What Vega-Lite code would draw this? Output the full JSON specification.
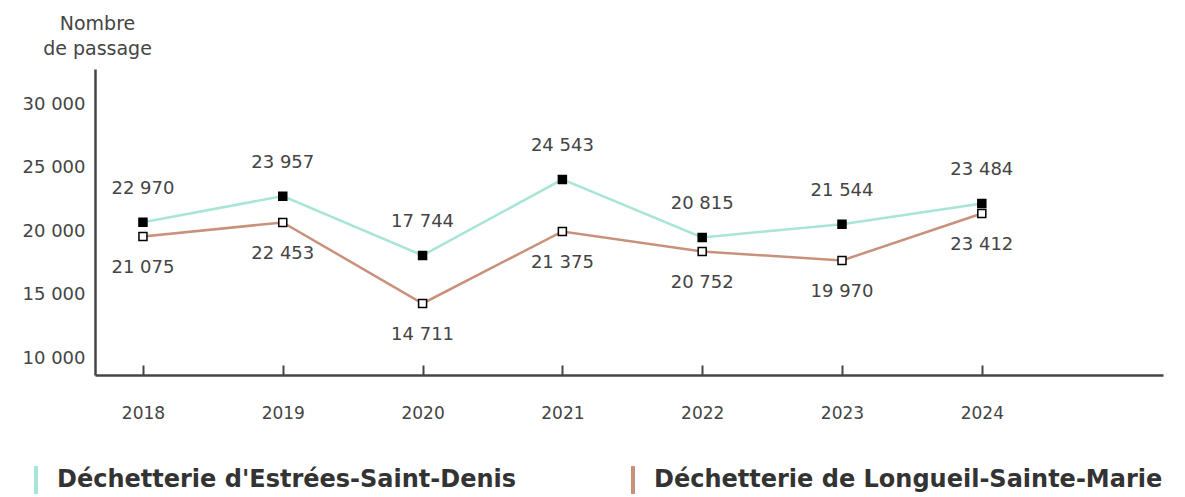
{
  "$schema": "https://vega.github.io/schema/vega-lite/v6.json",
  "width": 1068,
  "height": 306,
  "autosize": "none",
  "padding": {"left": 95, "top": 69, "right": 22, "bottom": 122},
  "data": {
    "values": [
      {"annee": 2018, "site": "Déchetterie d'Estrées-Saint-Denis", "trace": 20708, "passages": 22970},
      {"annee": 2019, "site": "Déchetterie d'Estrées-Saint-Denis", "trace": 22754, "passages": 23957},
      {"annee": 2020, "site": "Déchetterie d'Estrées-Saint-Denis", "trace": 18088, "passages": 17744},
      {"annee": 2021, "site": "Déchetterie d'Estrées-Saint-Denis", "trace": 24068, "passages": 24543},
      {"annee": 2022, "site": "Déchetterie d'Estrées-Saint-Denis", "trace": 19504, "passages": 20815},
      {"annee": 2023, "site": "Déchetterie d'Estrées-Saint-Denis", "trace": 20551, "passages": 21544},
      {"annee": 2024, "site": "Déchetterie d'Estrées-Saint-Denis", "trace": 22180, "passages": 23484},
      {"annee": 2018, "site": "Déchetterie de Longueil-Sainte-Marie", "trace": 19583, "passages": 21075},
      {"annee": 2019, "site": "Déchetterie de Longueil-Sainte-Marie", "trace": 20685, "passages": 22453},
      {"annee": 2020, "site": "Déchetterie de Longueil-Sainte-Marie", "trace": 14312, "passages": 14711},
      {"annee": 2021, "site": "Déchetterie de Longueil-Sainte-Marie", "trace": 19976, "passages": 21375},
      {"annee": 2022, "site": "Déchetterie de Longueil-Sainte-Marie", "trace": 18402, "passages": 20752},
      {"annee": 2023, "site": "Déchetterie de Longueil-Sainte-Marie", "trace": 17694, "passages": 19970},
      {"annee": 2024, "site": "Déchetterie de Longueil-Sainte-Marie", "trace": 21393, "passages": 23412}
    ]
  },
  "encoding": {
    "x": {
      "field": "annee", "type": "quantitative",
      "scale": {"domain": [2017.657, 2025.296], "nice": false, "zero": false},
      "axis": {
        "values": [2018, 2019, 2020, 2021, 2022, 2023, 2024],
        "format": "d", "title": null, "grid": false,
        "domainColor": "#444", "domainWidth": 2.5,
        "ticks": true, "tickColor": "#444", "tickWidth": 2, "tickSize": -10,
        "labelPadding": 48, "labelFontSize": 17, "labelColor": "#444", "labelBaseline": "middle"
      }
    },
    "y": {
      "field": "trace", "type": "quantitative",
      "scale": {"domain": [8686, 32754], "nice": false, "zero": false},
      "axis": {
        "values": [10000, 15000, 20000, 25000, 30000],
        "format": ",d", "grid": false, "ticks": false,
        "domainColor": "#444", "domainWidth": 2.5,
        "labelPadding": 10, "labelFontSize": 18, "labelColor": "#444",
        "title": ["Nombre", "de passage"], "titleAngle": 0, "titleAlign": "center",
        "titleBaseline": "middle", "titleX": 2, "titleY": -46, "titleLineHeight": 25,
        "titleFontSize": 19, "titleFontWeight": "normal", "titleColor": "#444"
      }
    }
  },
  "layer": [
    {
      "mark": {"type": "line", "strokeWidth": 2.5},
      "encoding": {
        "color": {
          "field": "site", "type": "nominal",
          "scale": {
            "domain": ["Déchetterie d'Estrées-Saint-Denis", "Déchetterie de Longueil-Sainte-Marie"],
            "range": ["#a8e5d6", "#c9917b"]
          },
          "legend": {
            "title": null, "orient": "none", "direction": "horizontal", "columns": 2,
            "legendX": -75, "legendY": 395, "padding": 0,
            "symbolType": "M0,-1L0,1", "symbolSize": 780, "symbolStrokeWidth": 4,
            "labelOffset": 5, "labelFontSize": 24, "labelFontWeight": "bold",
            "labelColor": "#333", "labelLimit": 800, "columnPadding": 100
          }
        }
      }
    },
    {
      "mark": {"type": "point", "shape": "square", "size": 64, "stroke": "black", "strokeWidth": 1.5, "opacity": 1},
      "encoding": {
        "fill": {
          "condition": {"test": "indexof(datum.site, 'Estrées') >= 0", "value": "black"},
          "value": "white"
        }
      }
    },
    {
      "transform": [{"filter": "indexof(datum.site, 'Estrées') >= 0"}],
      "mark": {"type": "text", "dy": -33, "fontSize": 18, "color": "#444", "baseline": "middle"},
      "encoding": {"text": {"field": "passages", "type": "quantitative", "format": ",d"}}
    },
    {
      "transform": [{"filter": "indexof(datum.site, 'Longueil') >= 0"}],
      "mark": {"type": "text", "dy": 32, "fontSize": 18, "color": "#444", "baseline": "middle"},
      "encoding": {"text": {"field": "passages", "type": "quantitative", "format": ",d"}}
    }
  ],
  "config": {
    "font": "DejaVu Sans",
    "view": {"stroke": null},
    "locale": {
      "number": {"decimal": ",", "thousands": " ", "grouping": [3], "currency": ["", " €"]}
    }
  }
}
